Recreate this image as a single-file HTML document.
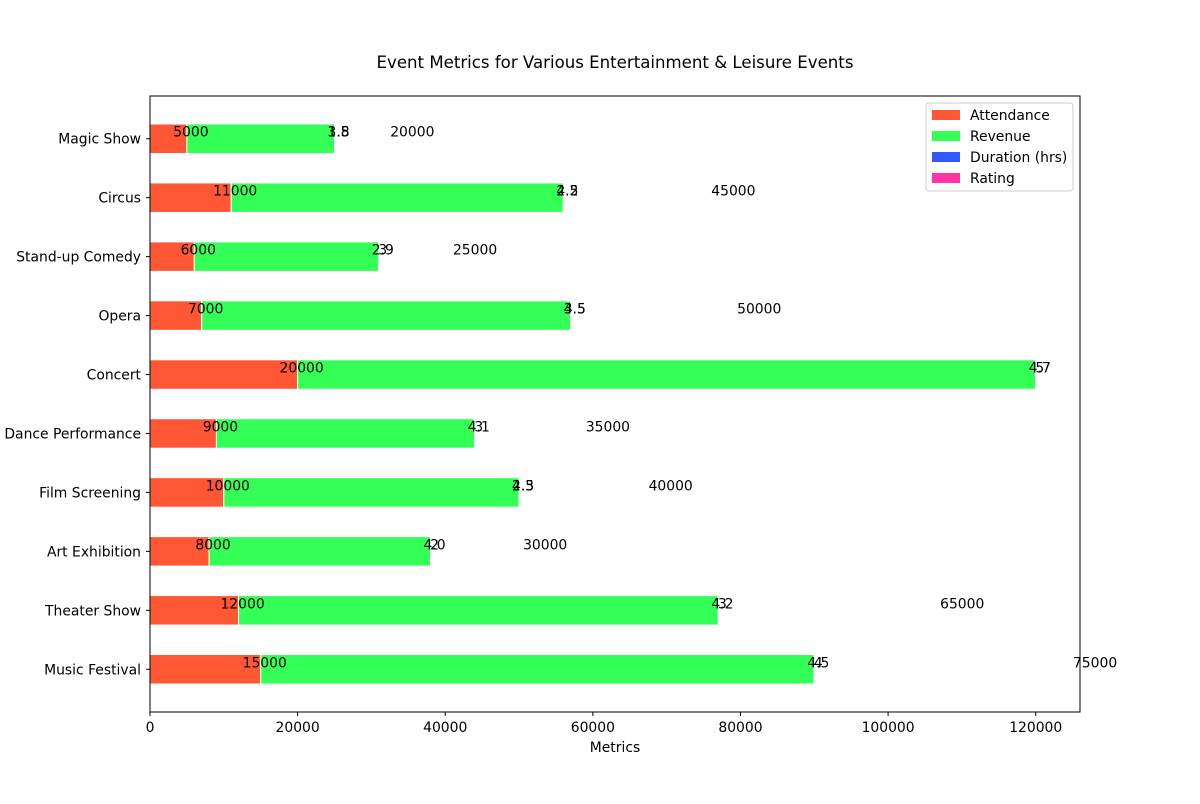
<!DOCTYPE html>
<html><head><meta charset="utf-8"><style>
body{margin:0;background:#fff;font-family:"DejaVu Sans","Liberation Sans",sans-serif;}
svg text{font-family:"DejaVu Sans","Liberation Sans",sans-serif;font-size:13.9px;fill:#000;}
</style></head><body>
<svg id="chart" width="1200" height="800"></svg>
<script>
const categories=["Music Festival","Theater Show","Art Exhibition","Film Screening","Dance Performance","Concert","Opera","Stand-up Comedy","Circus","Magic Show"];
const attendance=[15000,12000,8000,10000,9000,20000,7000,6000,11000,5000];
const revenue=[75000,65000,30000,40000,35000,100000,50000,25000,45000,20000];
const duration=[4,3,2,2.5,3,5,3.5,3,2.5,1.5];
const rating=[4.5,4.2,4.0,4.3,4.1,4.7,4.5,2.9,4.2,3.8];
const xTicks=[0,20000,40000,60000,80000,100000,120000];
const seriesNames=["Attendance","Revenue","Duration (hrs)","Rating"];
const colors=["#FF5733","#33FF57","#3357FF","#FF33A1"];

const svg=document.getElementById('chart');
const NS="http://www.w3.org/2000/svg";
const L=150,R=1080,T=96,B=712,xMax=126000,yMin=-0.725,yMax=9.725;
const X=v=>L+(v/xMax)*(R-L);
const Y=i=>B-(i-yMin)/(yMax-yMin)*(B-T);
const bh=0.5*(B-T)/(yMax-yMin);
function mk(tag,attrs,txt){const e=document.createElementNS(NS,tag);for(const k in attrs)e.setAttribute(k,attrs[k]);if(txt!==undefined)e.textContent=txt;svg.appendChild(e);return e;}

let t=mk('text',{x:615,y:68,'text-anchor':'middle'},"Event Metrics for Various Entertainment & Leisure Events");


t.style.fontSize='16.6px';

const series=[attendance,revenue,duration,rating];
categories.forEach((c,i)=>{
  let left=0;
  series.forEach((s,k)=>{
    const r=mk('rect',{x:X(left),y:Y(i)-bh/2,width:Math.max(0,X(left+s[i])-X(left)),height:bh,fill:colors[k],stroke:'#fff','stroke-width':1});
    
    
    left+=s[i];
  });
  const total=attendance[i]+revenue[i]+duration[i]+rating[i];
  const labels=[[attendance[i],String(attendance[i])],[attendance[i]+revenue[i]*1.5,String(revenue[i])],[total,String(duration[i])],[total,rating[i].toFixed(1)]];
  labels.forEach((lb,k)=>{
    const e=mk('text',{x:X(lb[0])+4,y:Y(i)-2,'text-anchor':'middle'},lb[1]);
    
    
  });
  const tk=mk('line',{x1:L-4,x2:L,y1:Y(i),y2:Y(i),stroke:'#000'});
  
  
  const tl=mk('text',{x:L-9,y:Y(i)+5,'text-anchor':'end'},c);
  
  
});
xTicks.forEach(v=>{
  const tk=mk('line',{x1:X(v),x2:X(v),y1:B,y2:B+4,stroke:'#000'});
  
  
  const tl=mk('text',{x:X(v),y:B+20,'text-anchor':'middle'},String(v));
  
  
});
const fr=mk('rect',{x:L,y:T,width:R-L,height:B-T,fill:'none',stroke:'#000','stroke-width':1});


const xt=mk('text',{x:615,y:752,'text-anchor':'middle'},"Metrics");



const lg=mk('rect',{x:926,y:103,width:147,height:88,rx:3,fill:'#fff',stroke:'#ccc'});


seriesNames.forEach((n,k)=>{
  const sw=mk('rect',{x:932,y:110+k*21,width:28,height:10,fill:colors[k]});
  
  
  const lt=mk('text',{x:970,y:120+k*21},n);
  
  
});
</script>
</body></html>
